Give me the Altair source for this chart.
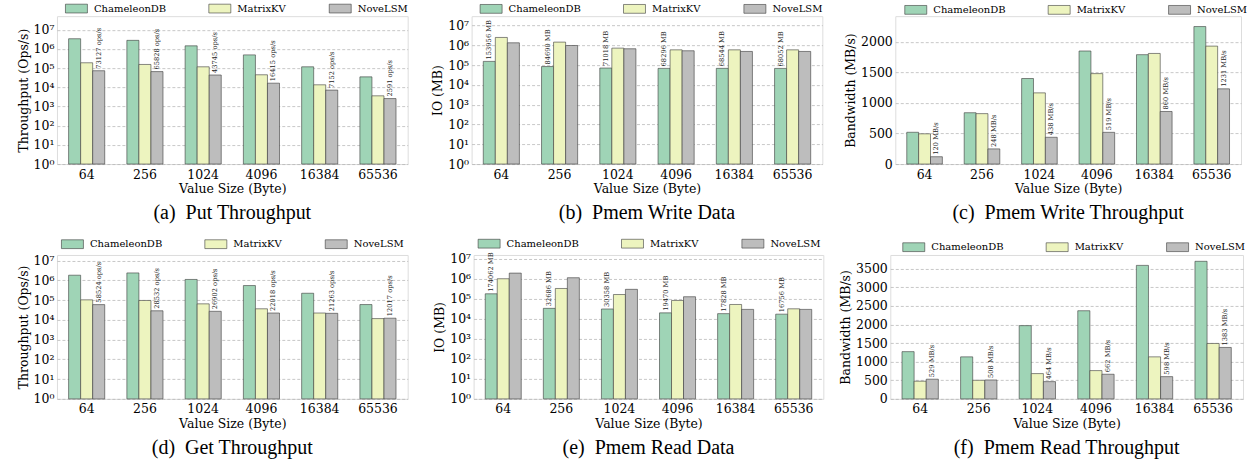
import altair as alt
import pandas as pd

sizes = ["64", "256", "1024", "4096", "16384", "65536"]
SERIES = ["ChameleonDB", "MatrixKV", "NoveLSM"]
COLORS = ["#9fd4b6", "#edf4bf", "#bdbdbd"]

# (a) Put Throughput (ops/s)
put_cham = [3.4e6, 2.8e6, 1.45e6, 4.9e5, 1.17e5, 3.5e4]
put_matrix = [1.9e5, 1.55e5, 1.17e5, 4.5e4, 1.35e4, 3.6e3]
put_nove = [73127, 65828, 43745, 16415, 7152, 2591]

# (b) Pmem Write Data (MB)
wdata_cham = [153956, 84690, 71018, 68296, 68544, 68052]
wdata_matrix = [2.5e6, 1.45e6, 7.2e5, 5.9e5, 5.9e5, 5.9e5]
wdata_nove = [1.34e6, 9.8e5, 6.7e5, 5.3e5, 4.9e5, 4.9e5]

# (c) Pmem Write Throughput (MB/s)
wbw_cham = [520, 840, 1400, 1850, 1790, 2250]
wbw_matrix = [495, 825, 1165, 1480, 1810, 1930]
wbw_nove = [120, 248, 438, 519, 860, 1231]

# (d) Get Throughput (ops/s)
get_cham = [1.8e6, 2.35e6, 1.1e6, 5.4e5, 2.2e5, 5.9e4]
get_matrix = [1.02e5, 9.5e4, 6.4e4, 3.6e4, 2.2e4, 1.15e4]
get_nove = [58524, 28532, 26902, 22018, 21263, 12017]

# (e) Pmem Read Data (MB)
rdata_cham = [174062, 32686, 30358, 19470, 17828, 16756]
rdata_matrix = [9.8e5, 3.2e5, 1.6e5, 8.1e4, 5.1e4, 3.1e4]
rdata_nove = [1.87e6, 1.1e6, 2.9e5, 1.24e5, 2.9e4, 2.9e4]

# (f) Pmem Read Throughput (MB/s)
rbw_cham = [1270, 1130, 1970, 2370, 3590, 3700]
rbw_matrix = [475, 500, 680, 760, 1130, 1490]
rbw_nove = [529, 508, 464, 662, 598, 1383]

log_ticks = [1, 10, 100, 1000, 10000, 100000, 1000000, 10000000]

FONT = "DejaVu Serif"
SUP = "['\u2070','\u00b9','\u00b2','\u00b3','\u2074','\u2075','\u2076','\u2077']"


def panel(vals, unit, label_series, ytitle, caption, log, ymax, ticks,
          width, height, lx, ly):
    rows = []
    for s, arr in zip(SERIES, vals):
        for size, v in zip(sizes, arr):
            lab = f"{v} {unit}" if s == label_series else ""
            rows.append({"size": size, "series": s, "value": v, "label": lab})
    df = pd.DataFrame(rows)

    if log:
        yscale = alt.Scale(type="log", domain=[1, ymax], nice=False)
        extra = dict(labelExpr="'10' + " + SUP + "[round(log(datum.value) / LN10)]")
    else:
        yscale = alt.Scale(domain=[0, ymax], nice=False, zero=True)
        extra = dict(format="d")

    yaxis = alt.Axis(title=ytitle, values=ticks, grid=True, gridDash=[3, 2],
                     gridColor="#b0b0b0", gridWidth=0.7, ticks=False, domain=False,
                     labelFont=FONT, labelFontSize=12.5, labelColor="black",
                     labelPadding=3, titleFont=FONT, titleFontSize=12.5,
                     titleFontWeight="normal", titleColor="black", titlePadding=3,
                     **extra)
    x = alt.X("size:N", sort=sizes,
              scale=alt.Scale(domain=sizes, paddingInner=0.38, paddingOuter=0.2),
              axis=alt.Axis(title="Value Size (Byte)", labelAngle=0, ticks=False,
                            domain=False, grid=False, labelFont=FONT,
                            labelFontSize=12.5, labelColor="black", labelPadding=4,
                            titleFont=FONT, titleFontSize=12.5,
                            titleFontWeight="normal", titleColor="black",
                            titlePadding=2))
    xoff = alt.XOffset("series:N", scale=alt.Scale(domain=SERIES, paddingInner=0,
                                                    paddingOuter=0))
    y = alt.Y("value:Q", scale=yscale, axis=yaxis, stack=None)

    legend = alt.Legend(title=None, orient="none", legendX=lx + 5.5, legendY=ly,
                        direction="horizontal", symbolType="M-2,-0.8H2V0.8H-2Z",
                        symbolSize=121, symbolStrokeColor="#3a3a3a",
                        symbolStrokeWidth=0.6, symbolOpacity=1, labelFont=FONT,
                        labelFontSize=10, labelColor="black", columnPadding=40.5,
                        labelOffset=11.5, padding=0)
    enc = dict(x=x, xOffset=xoff, y=y,
               color=alt.Color("series:N", scale=alt.Scale(domain=SERIES, range=COLORS),
                               legend=legend))
    if log:
        enc["y2"] = alt.datum(1)
    base = alt.Chart(df)
    bars = base.mark_bar(stroke="#3a3a3a", strokeWidth=0.6, opacity=1).encode(**enc)
    text = base.transform_filter(alt.datum.series == label_series).mark_text(
        angle=270, align="left", baseline="middle", dx=2, font=FONT,
        fontSize=6.7, color="#222222").encode(x=x, xOffset=xoff, y=y, text="label:N")
    return alt.layer(bars, text).properties(
        width=width, height=height,
        title=alt.TitleParams(caption, orient="bottom", font="Liberation Serif",
                              fontSize=20, fontWeight="normal", color="black",
                              offset=8, anchor="middle"))


def indep(ch):
    return ch.resolve_scale(color="independent", x="independent", y="independent",
                            xOffset="independent").resolve_legend(color="independent")


a = panel([put_cham, put_matrix, put_nove], "ops/s", "NoveLSM", "Throughput (Ops/s)",
          "(a)\u2002Put Throughput", True, 5.1e7, log_ticks, 351, 148, 8, -13.8)
b = panel([wdata_cham, wdata_matrix, wdata_nove], "MB", "ChameleonDB", "IO (MB)",
          "(b)\u2002Pmem Write Data", True, 2.97e7, log_ticks, 351, 148, 8, -13.5)
c = panel([wbw_cham, wbw_matrix, wbw_nove], "MB/s", "NoveLSM", "Bandwidth (MB/s)",
          "(c)\u2002Pmem Write Throughput", False, 2420, [0, 500, 1000, 1500, 2000],
          346, 148, 9, -12.5)
d = panel([get_cham, get_matrix, get_nove], "ops/s", "NoveLSM", "Throughput (Ops/s)",
          "(d)\u2002Get Throughput", True, 1.9e7, log_ticks, 351, 144, 4, -17)
e = panel([rdata_cham, rdata_matrix, rdata_nove], "MB", "ChameleonDB", "IO (MB)",
          "(e)\u2002Pmem Read Data", True, 1.5e7, log_ticks, 350, 144, 4, -17.5)
f = panel([rbw_cham, rbw_matrix, rbw_nove], "MB/s", "NoveLSM", "Bandwidth (MB/s)",
          "(f)\u2002Pmem Read Throughput", False, 3870,
          [0, 500, 1000, 1500, 2000, 2500, 3000, 3500], 353, 144, 12, -14)

row1 = indep(alt.hconcat(a, indep(alt.hconcat(b, c, spacing=73, bounds="flush")),
                         spacing=64, bounds="flush"))
row2 = indep(alt.hconcat(d, indep(alt.hconcat(e, f, spacing=67, bounds="flush")),
                         spacing=66, bounds="flush"))

chart = indep(alt.vconcat(row1, row2, spacing=13, bounds="full")).properties(
    padding={"left": 16, "top": 1, "right": 0, "bottom": 0}
).configure_view(stroke="#8a8a8a", strokeWidth=1).configure(
    font=FONT, background="white")

chart.save("out.html", embed_options={"renderer": "svg", "actions": False})
